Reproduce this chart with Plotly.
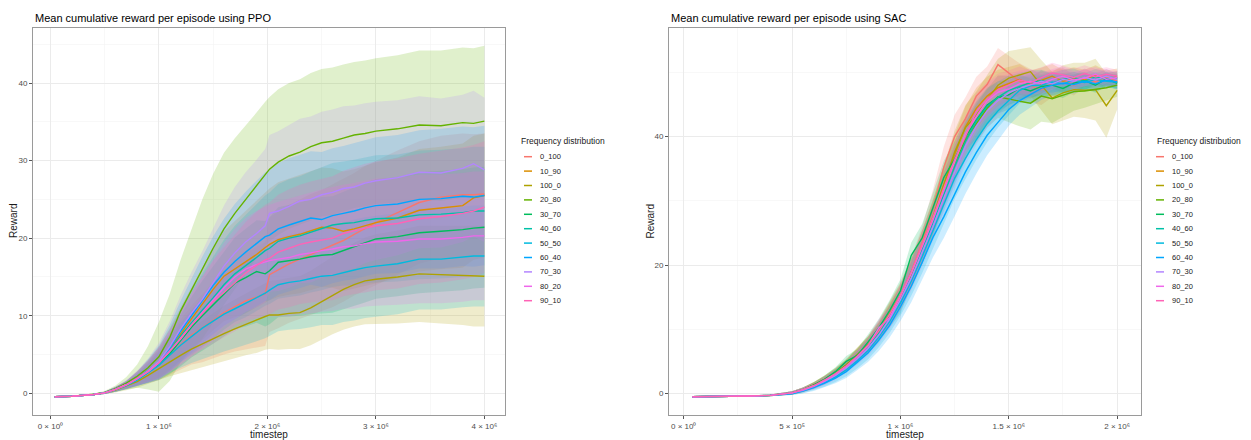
import plotly.graph_objects as go

W, H = 1251, 440

series_names = ["0_100", "10_90", "100_0", "20_80", "30_70", "40_60",
                "50_50", "60_40", "70_30", "80_20", "90_10"]
series_colors = ["#F8766D", "#DB8E00", "#AEA200", "#64B200", "#00BD5C", "#00C1A7",
                 "#00BADE", "#00A6FF", "#B385FF", "#EF67EB", "#FF63B6"]

# ---------------- PPO (timestep in millions) ----------------
ppo_timestep_m = [0.04, 0.2, 0.4, 0.5, 0.6, 0.7, 0.8, 0.9, 1.0, 1.1, 1.2, 1.3,
                  1.4, 1.5, 1.6, 1.7, 1.8, 1.9, 1.98, 2.02, 2.1, 2.2, 2.3, 2.4,
                  2.5, 2.6, 2.7, 2.8, 2.9, 3.0, 3.2, 3.4, 3.6, 3.8, 3.9, 4.0]

ppo_mean_0_100 = [-0.45, -0.38, -0.15, 0.05, 0.5, 1.0, 1.7, 2.6, 3.6, 4.9, 6.3, 7.5,
                  8.4, 9.4, 10.4, 11.2, 11.9, 12.4, 12.8, 15.3, 15.9, 16.7, 17.3, 17.9,
                  18.4, 19.0, 19.7, 20.5, 21.3, 22.0, 23.3, 24.6, 25.3, 25.6, 25.6, 25.7]
ppo_mean_10_90 = [-0.45, -0.38, -0.15, 0.05, 0.5, 1.1, 1.9, 2.9, 4.0, 5.7, 7.7, 9.6,
                  11.5, 13.4, 15.1, 16.0, 16.9, 17.9, 18.8, 19.2, 19.8, 20.2, 20.5, 21.0,
                  21.4, 21.3, 20.9, 21.2, 21.6, 22.0, 22.6, 23.6, 23.9, 24.2, 25.2, 25.5]
ppo_mean_100_0 = [-0.45, -0.38, -0.15, 0.05, 0.4, 0.9, 1.5, 2.3, 3.2, 4.1, 4.9, 5.7,
                  6.4, 7.1, 7.7, 8.3, 8.9, 9.4, 9.9, 10.1, 10.1, 10.3, 10.4, 11.0,
                  11.8, 12.6, 13.4, 14.0, 14.5, 14.7, 15.0, 15.4, 15.3, 15.2, 15.1, 15.1]
ppo_mean_20_80 = [-0.45, -0.38, -0.12, 0.1, 0.6, 1.3, 2.2, 3.3, 4.7, 7.2, 10.6, 13.4,
                  16.0, 18.7, 21.2, 23.2, 25.0, 26.8, 28.3, 28.9, 29.8, 30.6, 31.1, 31.8,
                  32.3, 32.5, 32.9, 33.3, 33.5, 33.8, 34.1, 34.6, 34.5, 34.9, 34.8, 35.1]
ppo_mean_30_70 = [-0.45, -0.38, -0.15, 0.05, 0.5, 1.1, 1.8, 2.7, 3.7, 5.1, 6.8, 8.5,
                  10.0, 11.4, 12.8, 14.2, 14.9, 15.7, 15.4, 15.8, 16.9, 17.1, 17.3, 17.6,
                  17.8, 17.9, 18.4, 18.9, 19.4, 19.9, 20.2, 20.7, 20.9, 21.1, 21.3, 21.4]
ppo_mean_40_60 = [-0.45, -0.38, -0.15, 0.05, 0.5, 1.1, 1.9, 2.8, 3.9, 5.5, 7.4, 9.1,
                  10.7, 12.3, 14.0, 15.4, 16.4, 17.5, 18.4, 18.7, 19.6, 20.0, 20.3, 20.8,
                  21.2, 21.7, 21.9, 22.0, 22.3, 22.5, 22.6, 23.0, 23.1, 23.3, 23.5, 23.5]
ppo_mean_50_50 = [-0.45, -0.38, -0.15, 0.05, 0.5, 1.0, 1.7, 2.6, 3.6, 4.9, 6.2, 7.3,
                  8.4, 9.3, 10.2, 10.9, 11.6, 12.3, 12.9, 13.3, 14.0, 14.3, 14.5, 14.8,
                  15.1, 15.2, 15.6, 15.9, 16.2, 16.4, 16.7, 17.3, 17.3, 17.6, 17.7, 17.7]
ppo_mean_60_40 = [-0.45, -0.38, -0.15, 0.05, 0.5, 1.1, 1.9, 2.9, 4.0, 5.8, 8.0, 10.0,
                  12.0, 13.9, 15.6, 17.0, 18.2, 19.3, 20.2, 20.4, 21.2, 21.7, 22.2, 22.6,
                  22.4, 22.9, 23.2, 23.5, 23.9, 24.2, 24.4, 25.0, 25.1, 25.4, 25.3, 25.5]
ppo_mean_70_30 = [-0.45, -0.38, -0.15, 0.05, 0.5, 1.1, 1.9, 2.9, 4.1, 6.0, 8.3, 10.3,
                  12.1, 14.2, 16.4, 18.1, 19.5, 20.6, 21.6, 23.2, 23.5, 24.1, 24.8, 25.0,
                  25.6, 25.9, 26.4, 26.6, 27.1, 27.4, 27.8, 28.5, 28.4, 29.0, 29.6, 28.8]
ppo_mean_80_20 = [-0.45, -0.38, -0.15, 0.05, 0.5, 1.1, 1.9, 2.8, 3.9, 5.4, 7.0, 8.8,
                  10.4, 12.0, 13.6, 15.0, 16.0, 16.6, 17.0, 17.1, 17.3, 17.5, 17.9, 18.1,
                  18.4, 18.6, 18.9, 19.0, 19.3, 19.5, 19.6, 19.9, 19.9, 20.1, 20.3, 20.3]
ppo_mean_90_10 = [-0.45, -0.38, -0.15, 0.05, 0.5, 1.1, 1.9, 2.8, 3.9, 5.4, 7.1, 8.8,
                  10.3, 11.8, 13.0, 14.2, 15.5, 16.5, 17.2, 17.4, 18.2, 18.7, 19.2, 19.5,
                  19.8, 20.0, 20.6, 21.0, 21.3, 21.6, 21.9, 22.5, 22.8, 23.2, 23.5, 24.0]

ppo_sd_0_100 = [0.05, 0.05, 0.1, 0.15, 0.3, 0.5, 0.8, 1.3, 1.9, 2.5, 3.2, 3.8,
                4.4, 4.9, 5.4, 5.8, 6.2, 6.5, 6.7, 7.4, 7.5, 7.6, 7.7, 7.8,
                7.8, 7.9, 7.9, 7.9, 8.0, 8.0, 8.0, 7.9, 7.9, 7.9, 7.8, 7.8]
ppo_sd_10_90 = [0.05, 0.05, 0.1, 0.15, 0.3, 0.5, 0.9, 1.4, 2.0, 2.7, 3.4, 4.1,
                4.7, 5.3, 5.8, 6.2, 6.6, 6.9, 7.1, 7.2, 7.4, 7.5, 7.6, 7.7,
                7.7, 7.7, 7.7, 7.7, 7.8, 7.8, 7.8, 7.9, 7.9, 8.0, 8.0, 8.0]
ppo_sd_100_0 = [0.05, 0.05, 0.1, 0.15, 0.3, 0.5, 0.8, 1.1, 1.5, 1.9, 2.3, 2.7,
                3.0, 3.3, 3.6, 3.8, 4.0, 4.2, 4.3, 4.4, 4.5, 4.6, 4.7, 4.8,
                4.9, 5.0, 5.2, 5.4, 5.6, 5.8, 6.0, 6.2, 6.3, 6.4, 6.5, 6.5]
ppo_sd_20_80 = [0.05, 0.05, 0.1, 0.2, 0.4, 0.8, 1.5, 2.8, 4.5, 5.6, 6.6, 7.8,
                9.0, 9.6, 9.8, 9.7, 9.5, 9.4, 9.3, 9.3, 9.4, 9.4, 9.4, 9.5,
                9.5, 9.5, 9.5, 9.4, 9.4, 9.4, 9.5, 9.6, 9.7, 9.7, 9.7, 9.7]
ppo_sd_30_70 = [0.05, 0.05, 0.1, 0.15, 0.3, 0.5, 0.9, 1.4, 2.0, 2.6, 3.3, 3.9,
                4.5, 5.0, 5.5, 5.9, 6.3, 6.6, 6.8, 6.9, 7.1, 7.2, 7.3, 7.4,
                7.5, 7.5, 7.6, 7.6, 7.7, 7.7, 7.7, 7.8, 7.8, 7.8, 7.8, 7.8]
ppo_sd_40_60 = [0.05, 0.05, 0.1, 0.15, 0.3, 0.5, 0.9, 1.4, 2.0, 2.7, 3.4, 4.1,
                4.7, 5.3, 5.8, 6.2, 6.6, 6.9, 7.1, 7.2, 7.4, 7.6, 7.7, 7.8,
                7.9, 8.0, 8.0, 8.1, 8.1, 8.2, 8.2, 8.3, 8.3, 8.3, 8.3, 8.3]
ppo_sd_50_50 = [0.05, 0.05, 0.1, 0.15, 0.3, 0.5, 0.8, 1.2, 1.7, 2.3, 2.9, 3.4,
                3.9, 4.4, 4.8, 5.1, 5.4, 5.6, 5.8, 5.9, 6.0, 6.1, 6.2, 6.3,
                6.3, 6.4, 6.4, 6.5, 6.5, 6.5, 6.5, 6.5, 6.5, 6.5, 6.5, 6.5]
ppo_sd_60_40 = [0.05, 0.05, 0.1, 0.15, 0.3, 0.5, 0.9, 1.5, 2.2, 3.0, 3.9, 4.8,
                5.6, 6.3, 6.9, 7.4, 7.8, 8.1, 8.3, 8.4, 8.5, 8.6, 8.6, 8.6,
                8.7, 8.7, 8.7, 8.8, 8.8, 8.8, 8.9, 8.9, 9.0, 9.0, 9.0, 9.0]
ppo_sd_70_30 = [0.05, 0.05, 0.1, 0.15, 0.3, 0.6, 1.0, 1.6, 2.4, 3.3, 4.3, 5.3,
                6.2, 7.0, 7.8, 8.5, 9.0, 9.5, 9.9, 10.1, 10.3, 10.5, 10.6, 10.7,
                10.7, 10.7, 10.6, 10.5, 10.3, 10.2, 10.0, 9.8, 9.6, 9.5, 9.4, 9.3]
ppo_sd_80_20 = [0.05, 0.05, 0.1, 0.15, 0.3, 0.5, 0.9, 1.4, 2.0, 2.7, 3.4, 4.1,
                4.7, 5.3, 5.8, 6.2, 6.6, 6.9, 7.1, 7.2, 7.4, 7.6, 7.7, 7.8,
                7.9, 8.0, 8.0, 8.1, 8.1, 8.2, 8.2, 8.3, 8.3, 8.3, 8.3, 8.3]
ppo_sd_90_10 = [0.05, 0.05, 0.1, 0.15, 0.3, 0.5, 0.9, 1.4, 2.0, 2.7, 3.4, 4.1,
                4.7, 5.3, 5.8, 6.2, 6.6, 6.9, 7.1, 7.2, 7.4, 7.6, 7.7, 7.8,
                7.9, 8.0, 8.1, 8.2, 8.3, 8.3, 8.4, 8.4, 8.5, 8.5, 8.5, 8.5]

# ---------------- SAC (timestep in millions) ----------------
sac_timestep_m = [0.04, 0.15, 0.3, 0.4, 0.5, 0.55, 0.6, 0.65, 0.7, 0.75, 0.8, 0.85,
                  0.9, 0.95, 1.0, 1.05, 1.1, 1.15, 1.2, 1.25, 1.3, 1.35, 1.4, 1.45,
                  1.5, 1.55, 1.6, 1.65, 1.7, 1.75, 1.8, 1.85, 1.9, 1.95, 2.0]

sac_mean_0_100 = [-0.5, -0.5, -0.4, -0.3, 0.1, 0.6, 1.2, 2.1, 3.0, 4.3, 5.9, 7.6,
                  9.9, 12.6, 15.2, 19.0, 23.5, 28.8, 35.2, 40.0, 42.8, 46.3, 48.1, 51.2,
                  49.9, 48.6, 47.9, 47.3, 48.2, 48.9, 48.0, 49.2, 48.5, 49.3, 48.6]
sac_mean_10_90 = [-0.5, -0.5, -0.4, -0.3, 0.1, 0.6, 1.3, 2.1, 3.1, 4.3, 5.8, 7.4,
                  9.6, 12.2, 15.0, 18.9, 23.0, 27.5, 32.6, 37.2, 41.5, 44.4, 46.3, 47.6,
                  48.3, 48.9, 48.1, 48.7, 49.4, 48.6, 49.1, 48.8, 49.6, 48.9, 49.3]
sac_mean_100_0 = [-0.5, -0.5, -0.4, -0.3, 0.1, 0.6, 1.3, 2.2, 3.2, 4.5, 6.0, 7.6,
                  9.8, 12.4, 15.3, 18.8, 22.8, 27.3, 32.4, 37.6, 41.4, 43.3, 45.7, 48.0,
                  49.1, 49.6, 50.1, 48.0, 46.0, 46.8, 47.3, 47.2, 47.3, 44.8, 47.2]
sac_mean_20_80 = [-0.5, -0.5, -0.4, -0.3, 0.1, 0.6, 1.3, 2.2, 3.2, 4.4, 5.9, 7.5,
                  9.5, 12.0, 14.8, 18.4, 22.4, 27.2, 31.7, 35.8, 39.5, 42.0, 44.4, 46.2,
                  45.8, 45.5, 45.2, 46.3, 45.9, 46.5, 47.0, 47.1, 47.3, 47.6, 48.0]
sac_mean_30_70 = [-0.5, -0.5, -0.4, -0.3, 0.1, 0.6, 1.3, 2.2, 3.4, 5.0, 5.9, 8.0,
                  10.2, 12.9, 16.0, 21.5, 24.2, 28.9, 33.6, 36.5, 39.9, 42.6, 44.9, 46.1,
                  46.5, 47.6, 47.1, 47.8, 48.0, 47.5, 48.3, 48.7, 48.0, 49.0, 48.3]
sac_mean_40_60 = [-0.5, -0.5, -0.4, -0.3, 0.1, 0.6, 1.2, 2.0, 3.0, 4.2, 5.6, 7.3,
                  9.4, 11.9, 14.2, 18.9, 22.3, 26.6, 31.0, 35.3, 39.2, 42.4, 44.7, 46.1,
                  47.2, 47.8, 48.4, 48.7, 48.3, 48.9, 49.2, 48.6, 49.3, 49.0, 49.1]
sac_mean_50_50 = [-0.5, -0.5, -0.4, -0.3, 0.0, 0.4, 1.0, 1.7, 2.6, 3.7, 5.1, 6.7,
                  8.8, 11.2, 14.1, 17.5, 21.3, 25.4, 29.5, 33.5, 36.6, 39.5, 42.0, 44.0,
                  45.6, 47.2, 47.9, 48.0, 48.5, 48.2, 48.8, 48.4, 48.9, 48.6, 48.5]
sac_mean_60_40 = [-0.5, -0.5, -0.4, -0.3, 0.0, 0.4, 0.9, 1.6, 2.4, 3.4, 4.8, 6.3,
                  8.3, 10.6, 13.5, 16.7, 20.4, 24.3, 27.5, 31.0, 34.5, 37.5, 40.2, 42.2,
                  44.2, 45.6, 46.6, 47.5, 48.0, 48.3, 48.1, 48.6, 48.2, 48.8, 48.5]
sac_mean_70_30 = [-0.5, -0.5, -0.4, -0.3, 0.1, 0.5, 1.1, 1.9, 2.8, 4.0, 5.4, 7.0,
                  9.1, 11.6, 14.6, 18.0, 21.9, 26.0, 30.4, 34.6, 38.5, 41.6, 44.0, 45.6,
                  46.8, 47.5, 48.0, 48.6, 48.2, 48.9, 48.6, 49.2, 48.8, 49.4, 48.9]
sac_mean_80_20 = [-0.5, -0.5, -0.4, -0.3, 0.1, 0.6, 1.2, 2.0, 3.0, 4.2, 5.7, 7.4,
                  10.2, 11.8, 15.1, 18.7, 22.7, 27.0, 31.6, 35.9, 40.4, 43.1, 45.6, 46.9,
                  47.4, 48.2, 48.6, 48.2, 48.9, 49.4, 48.8, 49.1, 49.7, 48.9, 49.2]
sac_mean_90_10 = [-0.5, -0.5, -0.4, -0.3, 0.1, 0.6, 1.2, 2.1, 3.1, 4.3, 5.8, 7.5,
                  9.7, 12.3, 15.3, 18.9, 23.0, 27.4, 32.0, 36.4, 40.0, 43.9, 45.8, 47.3,
                  48.0, 48.8, 48.4, 49.1, 49.9, 49.6, 49.2, 49.8, 49.3, 49.7, 49.4]

sac_sd_0_100 = [0.1, 0.1, 0.1, 0.15, 0.25, 0.35, 0.5, 0.6, 0.75, 0.9, 1.1, 1.3,
                1.5, 1.7, 1.9, 2.2, 2.5, 2.9, 3.2, 3.4, 3.3, 3.0, 2.8, 2.6,
                2.7, 2.8, 2.6, 2.4, 2.1, 1.8, 1.6, 1.4, 1.3, 1.2, 1.1]
sac_sd_10_90 = [0.1, 0.1, 0.1, 0.15, 0.25, 0.35, 0.45, 0.6, 0.7, 0.85, 1.0, 1.2,
                1.4, 1.6, 1.8, 2.0, 2.3, 2.6, 2.9, 3.1, 3.2, 3.2, 3.0, 2.8,
                2.6, 2.4, 2.2, 2.0, 1.9, 1.8, 1.7, 1.6, 1.5, 1.4, 1.3]
sac_sd_100_0 = [0.1, 0.1, 0.1, 0.15, 0.25, 0.35, 0.5, 0.6, 0.75, 0.9, 1.1, 1.3,
                1.5, 1.8, 2.0, 2.3, 2.6, 2.9, 3.1, 3.3, 3.5, 3.7, 3.9, 4.1,
                4.2, 4.0, 3.8, 3.9, 4.1, 4.3, 4.2, 4.3, 4.8, 5.0, 3.0]
sac_sd_20_80 = [0.1, 0.1, 0.1, 0.15, 0.25, 0.35, 0.5, 0.6, 0.75, 0.9, 1.1, 1.3,
                1.5, 1.7, 1.9, 2.1, 2.3, 2.5, 2.7, 2.8, 2.9, 3.0, 3.0, 3.3,
                3.6, 3.9, 4.1, 4.0, 3.8, 3.4, 3.0, 2.6, 2.3, 2.0, 1.8]
sac_sd_30_70 = [0.1, 0.1, 0.1, 0.15, 0.25, 0.35, 0.45, 0.6, 0.7, 0.85, 1.0, 1.2,
                1.4, 1.6, 1.8, 2.0, 2.2, 2.4, 2.6, 2.8, 2.9, 2.9, 2.7, 2.5,
                2.3, 2.1, 1.9, 1.7, 1.6, 1.5, 1.4, 1.3, 1.2, 1.1, 1.0]
sac_sd_40_60 = [0.1, 0.1, 0.1, 0.15, 0.25, 0.35, 0.45, 0.6, 0.7, 0.85, 1.0, 1.2,
                1.4, 1.6, 1.8, 2.0, 2.2, 2.4, 2.6, 2.8, 2.9, 2.9, 2.7, 2.5,
                2.3, 2.1, 1.9, 1.7, 1.6, 1.5, 1.4, 1.3, 1.2, 1.1, 1.0]
sac_sd_50_50 = [0.1, 0.1, 0.1, 0.15, 0.25, 0.35, 0.5, 0.65, 0.8, 1.0, 1.2, 1.4,
                1.6, 1.8, 2.0, 2.3, 2.6, 2.9, 3.1, 3.2, 3.2, 3.1, 2.9, 2.6,
                2.3, 2.0, 1.8, 1.6, 1.5, 1.4, 1.3, 1.2, 1.1, 1.0, 1.0]
sac_sd_60_40 = [0.1, 0.1, 0.1, 0.15, 0.25, 0.35, 0.5, 0.65, 0.8, 1.0, 1.2, 1.4,
                1.7, 1.9, 2.2, 2.5, 2.8, 3.1, 3.3, 3.4, 3.4, 3.3, 3.1, 2.8,
                2.5, 2.2, 2.0, 1.8, 1.6, 1.5, 1.4, 1.3, 1.2, 1.1, 1.1]
sac_sd_70_30 = [0.1, 0.1, 0.1, 0.15, 0.25, 0.35, 0.45, 0.6, 0.7, 0.85, 1.0, 1.2,
                1.4, 1.6, 1.8, 2.0, 2.2, 2.4, 2.6, 2.8, 2.9, 2.9, 2.7, 2.5,
                2.3, 2.1, 1.9, 1.7, 1.6, 1.5, 1.4, 1.3, 1.2, 1.1, 1.0]
sac_sd_80_20 = [0.1, 0.1, 0.1, 0.15, 0.25, 0.35, 0.45, 0.6, 0.7, 0.85, 1.0, 1.2,
                1.4, 1.6, 1.8, 2.0, 2.2, 2.4, 2.6, 2.8, 2.9, 2.9, 2.7, 2.5,
                2.3, 2.1, 1.9, 1.7, 1.6, 1.5, 1.4, 1.3, 1.2, 1.1, 1.0]
sac_sd_90_10 = [0.1, 0.1, 0.1, 0.15, 0.25, 0.35, 0.45, 0.6, 0.7, 0.85, 1.0, 1.2,
                1.4, 1.6, 1.8, 2.0, 2.2, 2.4, 2.6, 2.8, 2.9, 2.9, 2.7, 2.5,
                2.3, 2.1, 1.9, 1.7, 1.6, 1.5, 1.4, 1.3, 1.2, 1.1, 1.0]

ppo_x_ticks_m = [0, 1, 2, 3, 4]
ppo_x_tick_labels = ["0 × 10⁰", "1 × 10⁶", "2 × 10⁶", "3 × 10⁶", "4 × 10⁶"]
ppo_y_ticks = [0, 10, 20, 30, 40]
sac_x_ticks_m = [0, 0.5, 1.0, 1.5, 2.0]
sac_x_tick_labels = ["0 × 10⁰", "5 × 10⁵", "1 × 10⁶", "1.5 × 10⁶", "2 × 10⁶"]
sac_y_ticks = [0, 20, 40]

ppo_means = [ppo_mean_0_100, ppo_mean_10_90, ppo_mean_100_0, ppo_mean_20_80, ppo_mean_30_70,
             ppo_mean_40_60, ppo_mean_50_50, ppo_mean_60_40, ppo_mean_70_30, ppo_mean_80_20,
             ppo_mean_90_10]
ppo_sds = [ppo_sd_0_100, ppo_sd_10_90, ppo_sd_100_0, ppo_sd_20_80, ppo_sd_30_70, ppo_sd_40_60,
           ppo_sd_50_50, ppo_sd_60_40, ppo_sd_70_30, ppo_sd_80_20, ppo_sd_90_10]
sac_means = [sac_mean_0_100, sac_mean_10_90, sac_mean_100_0, sac_mean_20_80, sac_mean_30_70,
             sac_mean_40_60, sac_mean_50_50, sac_mean_60_40, sac_mean_70_30, sac_mean_80_20,
             sac_mean_90_10]
sac_sds = [sac_sd_0_100, sac_sd_10_90, sac_sd_100_0, sac_sd_20_80, sac_sd_30_70, sac_sd_40_60,
           sac_sd_50_50, sac_sd_60_40, sac_sd_70_30, sac_sd_80_20, sac_sd_90_10]

FONT = "Liberation Sans, Arial, sans-serif"


def rgba(hex_color, a):
    h = hex_color.lstrip("#")
    r, g, b = int(h[0:2], 16), int(h[2:4], 16), int(h[4:6], 16)
    return f"rgba({r},{g},{b},{a})"


def px_x(px):
    return px / W


def px_y(py):
    return 1 - py / H


fig = go.Figure()


def add_panel(xs_m, means, sds, xa, ya):
    xs = [v * 1e6 for v in xs_m]
    # ribbons first (drawn under all lines)
    for name, col, m, s in zip(series_names, series_colors, means, sds):
        upper = [a + b for a, b in zip(m, s)]
        lower = [a - b for a, b in zip(m, s)]
        fig.add_trace(go.Scatter(
            x=xs + xs[::-1], y=upper + lower[::-1], fill="toself",
            fillcolor=rgba(col, 0.2), line=dict(width=0), mode="lines",
            hoverinfo="skip", showlegend=False, xaxis=xa, yaxis=ya))
    for name, col, m in zip(series_names, series_colors, means):
        fig.add_trace(go.Scatter(
            x=xs, y=m, mode="lines", name=name, line=dict(color=col, width=1.4),
            showlegend=False, xaxis=xa, yaxis=ya))


add_panel(ppo_timestep_m, ppo_means, ppo_sds, "x", "y")
add_panel(sac_timestep_m, sac_means, sac_sds, "x2", "y2")

y_dom = [px_y(415), px_y(28)]

axis_common = dict(
    showline=True, mirror=True, linecolor="#9A9A9A", linewidth=1,
    showgrid=True, gridcolor="#EBEBEB", gridwidth=1, zeroline=False,
    ticks="outside", ticklen=3, tickwidth=1, tickcolor="#555555",
    tickfont=dict(family=FONT, size=8, color="#4D4D4D"),
)
title_font = dict(family=FONT, size=10, color="#1A1A1A")

fig.update_layout(
    width=W, height=H, margin=dict(l=0, r=0, t=0, b=0),
    paper_bgcolor="white", plot_bgcolor="white", showlegend=False,
    font=dict(family=FONT), hovermode=False,
    xaxis=dict(axis_common, domain=[px_x(33), px_x(505)], anchor="y",
               range=[-0.16e6, 4.19e6],
               tickvals=[v * 1e6 for v in ppo_x_ticks_m], ticktext=ppo_x_tick_labels,
               minor=dict(tickvals=[0.5e6, 1.5e6, 2.5e6, 3.5e6], showgrid=True,
                          gridcolor="#F3F3F3", gridwidth=0.6, ticks=""),
               title=dict(text="timestep", font=title_font, standoff=2)),
    yaxis=dict(axis_common, domain=y_dom, anchor="x", range=[-2.8, 47.1],
               tickvals=ppo_y_ticks,
               minor=dict(tickvals=[5, 15, 25, 35, 45], showgrid=True,
                          gridcolor="#F3F3F3", gridwidth=0.6, ticks="")),
    xaxis2=dict(axis_common, domain=[px_x(669), px_x(1141)], anchor="y2",
                range=[-0.068e6, 2.11e6],
                tickvals=[v * 1e6 for v in sac_x_ticks_m], ticktext=sac_x_tick_labels,
                minor=dict(tickvals=[0.25e6, 0.75e6, 1.25e6, 1.75e6], showgrid=True,
                           gridcolor="#F3F3F3", gridwidth=0.6, ticks=""),
                title=dict(text="timestep", font=title_font, standoff=2)),
    yaxis2=dict(axis_common, domain=y_dom, anchor="x2", range=[-3.35, 56.9],
                tickvals=sac_y_ticks,
                minor=dict(tickvals=[10, 30, 50], showgrid=True,
                           gridcolor="#F3F3F3", gridwidth=0.6, ticks="")),
)

annotations = []
shapes = []
# panel titles
for text, x0 in [("Mean cumulative reward per episode using PPO", 33),
                 ("Mean cumulative reward per episode using SAC", 669)]:
    annotations.append(dict(text=text, x=px_x(x0), y=px_y(18), xref="paper", yref="paper",
                            xanchor="left", yanchor="middle", showarrow=False,
                            font=dict(family=FONT, size=11, color="#000000")))

# y-axis titles (placed beside each panel)
for xc in [13.5, 650]:
    annotations.append(dict(text="Reward", x=px_x(xc), y=px_y(221.5), xref="paper",
                            yref="paper", xanchor="center", yanchor="middle",
                            textangle=-90, showarrow=False, font=title_font))

# legends (one per panel)
for title_x, line_x0, line_x1, text_x in [(519, 524, 532, 538), (1155, 1156, 1164, 1170)]:
    annotations.append(dict(text="Frequency distribution", x=px_x(title_x), y=px_y(141),
                            xref="paper", yref="paper", xanchor="left", yanchor="middle",
                            showarrow=False, font=dict(family=FONT, size=8.5, color="#1A1A1A")))
    for i, (name, col) in enumerate(zip(series_names, series_colors)):
        yy = 156.7 + 14.4 * i
        shapes.append(dict(type="line", xref="paper", yref="paper",
                           x0=px_x(line_x0), x1=px_x(line_x1), y0=px_y(yy), y1=px_y(yy),
                           line=dict(color=col, width=1.5)))
        annotations.append(dict(text=name, x=px_x(text_x), y=px_y(yy), xref="paper",
                                yref="paper", xanchor="left", yanchor="middle",
                                showarrow=False,
                                font=dict(family=FONT, size=7.5, color="#1A1A1A")))

fig.update_layout(annotations=annotations, shapes=shapes)

fig.write_html("out.html",
               config={"displayModeBar": False, "staticPlot": True},
               post_script="document.body.style.margin='0px';"
                           "document.body.style.overflow='hidden';")
